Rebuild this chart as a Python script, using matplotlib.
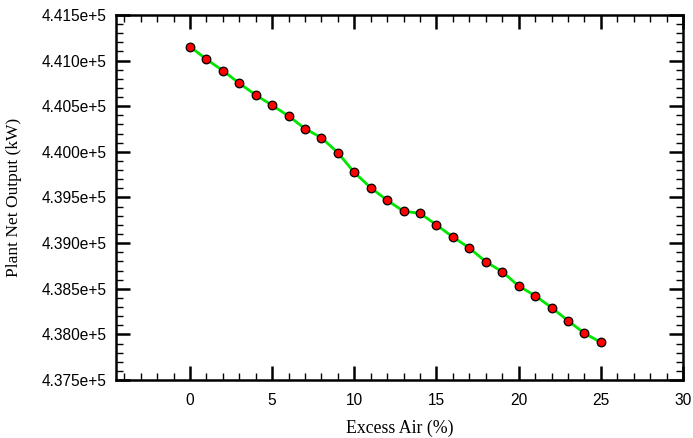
import matplotlib
matplotlib.use("Agg")
import matplotlib.pyplot as plt
from matplotlib.ticker import MultipleLocator

# excess air (%) vs plant net output (kW)
excess_air = [0, 1, 2, 3, 4, 5, 6, 7, 8, 9, 10, 11, 12, 13, 14, 15, 16, 17, 18, 19, 20, 21, 22, 23, 24, 25]
net_output = [441153, 441015, 440890, 440752, 440623, 440510, 440393, 440254, 440155, 439990,
              439774, 439607, 439469, 439349, 439327, 439199, 439067, 438947, 438796, 438687,
              438530, 438424, 438294, 438150, 438012, 437913]

fig = plt.figure(figsize=(6.93, 4.38), dpi=100)
ax = fig.add_axes([0.1674, 0.1324, 0.8182, 0.8334])

ax.plot(excess_air, net_output, color="#00e600", lw=2, zorder=2)
ax.plot(excess_air, net_output, "o", ms=6.2, mfc="red", mec="black", mew=0.9, zorder=3)

ax.set_xlim(-4.5, 30)
ax.set_ylim(437500, 441500)
ax.xaxis.set_major_locator(MultipleLocator(5))
ax.xaxis.set_minor_locator(MultipleLocator(1))
ax.yaxis.set_major_locator(MultipleLocator(500))
ax.yaxis.set_minor_locator(MultipleLocator(100))

def sci(v, pos):
    return "%.3fe+5" % (v / 1e5)

ax.yaxis.set_major_formatter(plt.FuncFormatter(sci))

ax.tick_params(which="both", direction="in", top=True, right=True)
ax.tick_params(which="major", length=10, width=1.8, labelsize=11.2)
ax.tick_params(axis="x", which="major", pad=9)
ax.tick_params(axis="y", which="major", pad=7)
ax.tick_params(which="minor", length=5, width=1)
for lab in ax.get_xticklabels() + ax.get_yticklabels():
    lab.set_fontfamily("Liberation Sans")
for s in ax.spines.values():
    s.set_linewidth(1.8)

ax.set_xlabel("Excess Air (%)", family="Liberation Serif", fontsize=12.8, labelpad=9)
ax.set_ylabel("Plant Net Output (kW)", family="Liberation Serif", fontsize=12.5, labelpad=14)

fig.savefig("out.png", dpi=100)
